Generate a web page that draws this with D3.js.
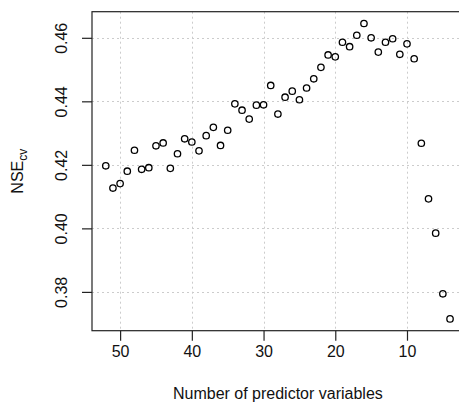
<!DOCTYPE html>
<html>
<head>
<meta charset="utf-8">
<script src="https://cdn.jsdelivr.net/npm/d3@7"></script>
<style>
  html, body { margin: 0; padding: 0; background: #fff; }
  svg { display: block; font-family: "Liberation Sans", Arial, sans-serif; }
</style>
</head>
<body>
<svg id="chart" width="459" height="411"></svg>
<script>
// Number of predictor variables kept in each model
const nVars = [52, 51, 50, 49, 48, 47, 46, 45, 44, 43, 42, 41, 40, 39, 38, 37, 36, 35, 34, 33,
               32, 31, 30, 29, 28, 27, 26, 25, 24, 23, 22, 21, 20, 19, 18, 17, 16, 15, 14, 13,
               12, 11, 10, 9, 8, 7, 6, 5, 4];
// Cross-validated Nash–Sutcliffe efficiency for each model
const nseCv = [0.4197, 0.4127, 0.4141, 0.4180, 0.4246, 0.4186, 0.4191, 0.4260, 0.4269, 0.4189,
               0.4235, 0.4282, 0.4272, 0.4244, 0.4292, 0.4318, 0.4261, 0.4309, 0.4392, 0.4372,
               0.4344, 0.4388, 0.4389, 0.4450, 0.4360, 0.4413, 0.4432, 0.4405, 0.4442, 0.4471,
               0.4507, 0.4546, 0.4540, 0.4586, 0.4572, 0.4608, 0.4645, 0.4600, 0.4555, 0.4586,
               0.4597, 0.4548, 0.4581, 0.4534, 0.4268, 0.4093, 0.3985, 0.3794, 0.3715];
const xTicks = [50, 40, 30, 20, 10];
const yTicks = [0.38, 0.40, 0.42, 0.44, 0.46];

const svg = d3.select("#chart");
const plot = { left: 92, right: 463.8, top: 11.7, bottom: 330.7 };

// R-style 4% padding around the data range, x axis reversed
const xMin = d3.min(nVars), xMax = d3.max(nVars);
const xPad = (xMax - xMin) * 0.04;
const x = d3.scaleLinear().domain([xMax + xPad, xMin - xPad]).range([plot.left, plot.right]);

const yMin = d3.min(nseCv), yMax = d3.max(nseCv);
const yPad = (yMax - yMin) * 0.04;
const y = d3.scaleLinear().domain([yMin - yPad, yMax + yPad]).range([plot.bottom, plot.top]);

// dotted grid
const grid = svg.append("g").attr("stroke", "#cccccc").attr("stroke-width", 1)
  .attr("stroke-dasharray", "2,3");
grid.selectAll("line.v").data(xTicks).join("line").attr("class", "v")
  .attr("x1", d => Math.round(x(d)) + 0.5).attr("x2", d => Math.round(x(d)) + 0.5)
  .attr("y1", plot.top).attr("y2", plot.bottom);
grid.selectAll("line.h").data(yTicks).join("line").attr("class", "h")
  .attr("y1", d => Math.round(y(d)) + 0.5).attr("y2", d => Math.round(y(d)) + 0.5)
  .attr("x1", plot.left).attr("x2", plot.right);

// points
svg.append("g").selectAll("circle").data(nVars.map((v, i) => [v, nseCv[i]])).join("circle")
  .attr("cx", d => x(d[0])).attr("cy", d => y(d[1])).attr("r", 3.2)
  .attr("fill", "none").attr("stroke", "#000").attr("stroke-width", 1.3);

// plot box
svg.append("rect").attr("x", plot.left).attr("y", plot.top)
  .attr("width", plot.right - plot.left).attr("height", plot.bottom - plot.top)
  .attr("fill", "none").attr("stroke", "#222").attr("stroke-width", 1.2);

// axes
const xAxis = d3.axisBottom(x).tickValues(xTicks).tickSize(10).tickPadding(5)
  .tickFormat(d3.format("d"));
const gx = svg.append("g").attr("transform", `translate(0,${plot.bottom})`).call(xAxis);
gx.select(".domain").remove();
gx.selectAll(".tick line").attr("stroke", "#222").attr("stroke-width", 1.2);
gx.selectAll(".tick text").attr("font-size", 16).attr("fill", "#111")
  .attr("font-family", "Liberation Sans, Arial, sans-serif");

const yAxis = d3.axisLeft(y).tickValues(yTicks).tickSize(10).tickFormat(d3.format(".2f"));
const gy = svg.append("g").attr("transform", `translate(${plot.left},0)`).call(yAxis);
gy.select(".domain").remove();
gy.selectAll(".tick line").attr("stroke", "#222").attr("stroke-width", 1.2);
gy.selectAll(".tick text")
  .attr("font-size", 16).attr("fill", "#111")
  .attr("font-family", "Liberation Sans, Arial, sans-serif")
  .attr("x", null).attr("dy", null)
  .attr("text-anchor", "middle")
  .attr("transform", "translate(-25.3,0) rotate(-90)");

// axis titles
svg.append("text").attr("x", (plot.left + plot.right) / 2).attr("y", 398.7)
  .attr("text-anchor", "middle").attr("font-size", 16).attr("fill", "#111")
  .text("Number of predictor variables");

const yTitle = svg.append("text")
  .attr("transform", `translate(23.3,${(plot.top + plot.bottom) / 2}) rotate(-90)`)
  .attr("text-anchor", "middle").attr("font-size", 16).attr("fill", "#111");
yTitle.append("tspan").text("NSE");
yTitle.append("tspan").attr("font-size", 12).attr("dy", 4).text("cv");
</script>
</body>
</html>
